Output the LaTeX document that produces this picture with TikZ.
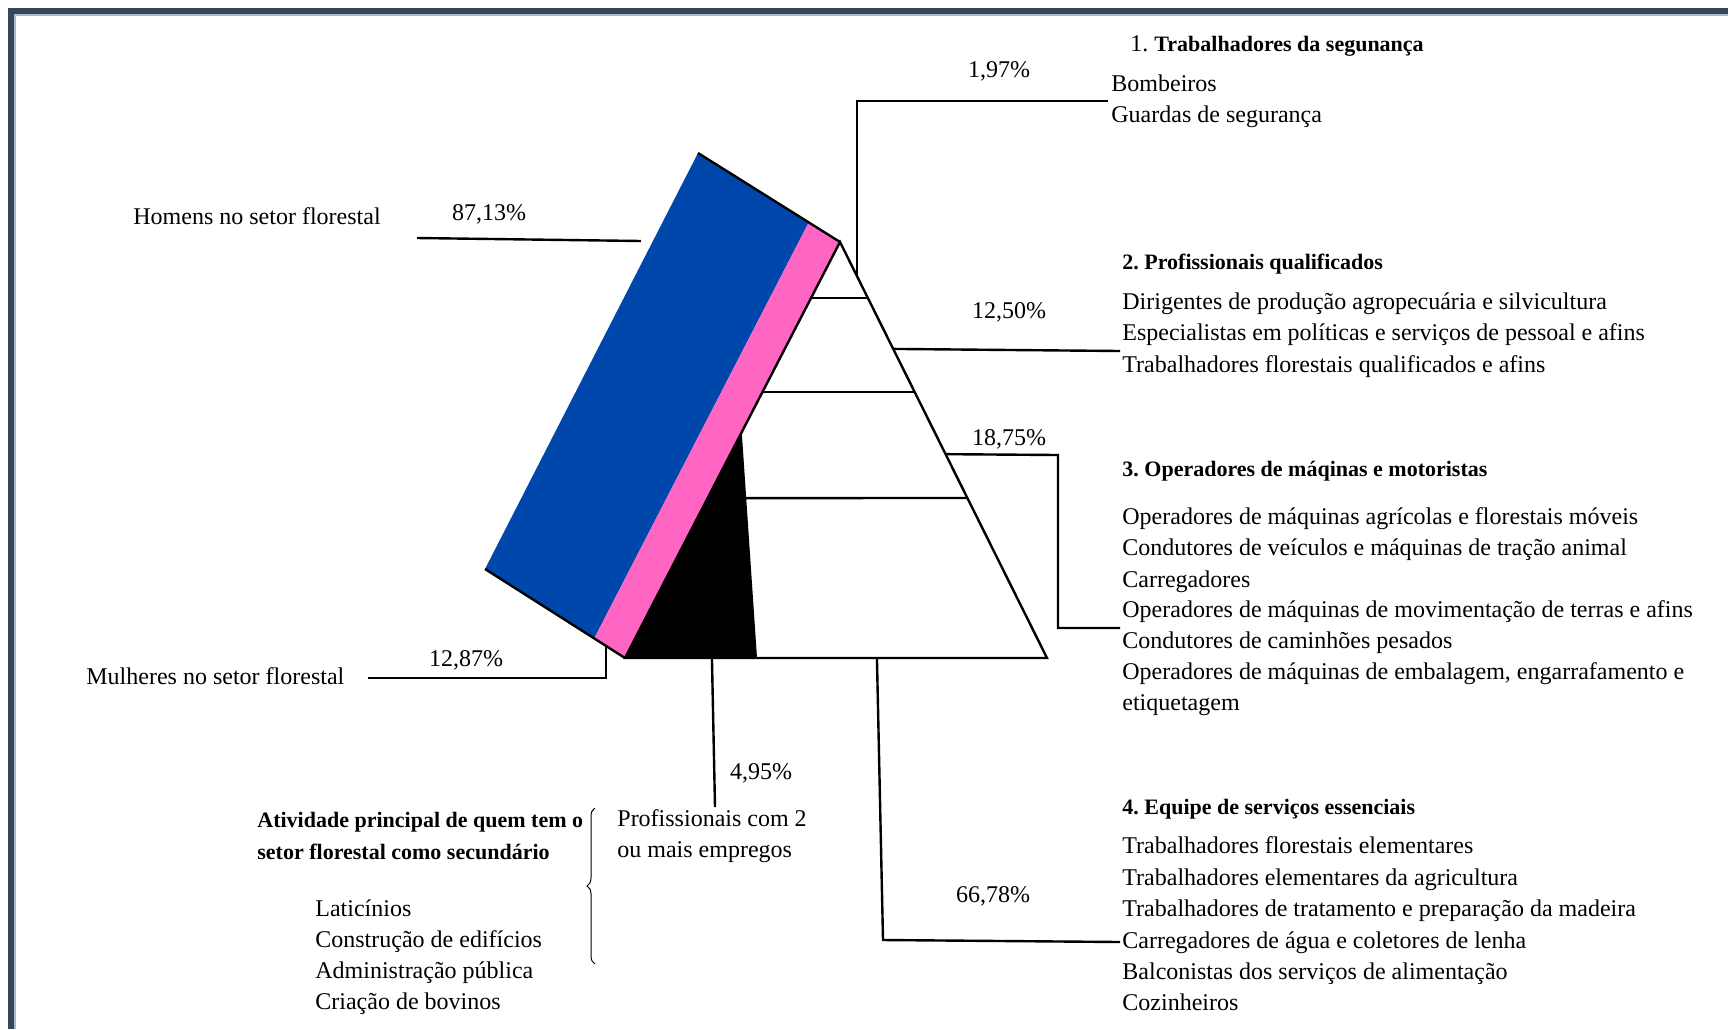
\documentclass[tikz,border=0pt]{standalone}
\usepackage{fontspec}
\setmainfont{Liberation Serif}
\usetikzlibrary{positioning, calc, decorations.pathreplacing}
\definecolor{menblue}{HTML}{0047AB}
\definecolor{womenpink}{HTML}{FF66C4}
\definecolor{framedark}{HTML}{34455C}
\definecolor{framelight}{HTML}{AEB8C4}
\frenchspacing
\tikzstyle{item} = [anchor=west, inner sep=0pt, text height=10.5pt, text depth=2.5pt, font=\fontsize{12}{15}\selectfont]
\tikzstyle{head} = [item, font=\fontsize{11}{14}\selectfont\bfseries]
\tikzstyle{pct} = [inner sep=0pt, text height=10.5pt, text depth=2.5pt, font=\fontsize{12}{15}\selectfont]
\tikzstyle{link} = [line width=1.2pt]

\begin{document}
\begin{tikzpicture}[x=0.5pt, y=-0.5pt]
\useasboundingbox (0,0) rectangle (1728,1029);
% frame
\draw[framedark, line width=3pt] (11,1029) -- (11,11) -- (1728,11);
\draw[framelight, line width=0.8pt] (15,1029) -- (15,15) -- (1728,15);

% pyramid and the tilted bar
\coordinate (rtop) at (698,153);
\coordinate (apex) at (840,242);
\coordinate (bl) at (625,658);
\coordinate (rbot) at (485,569);
\coordinate (br) at (1047,658);
\coordinate (btop) at ($(apex)!0.457!(bl)$);
\coordinate (bbr) at (757,658);

\fill[menblue] (rtop) -- ($(rtop)!0.78!(apex)$) -- ($(rbot)!0.78!(bl)$) -- (rbot) -- cycle;
\fill[womenpink] ($(rtop)!0.78!(apex)$) -- (apex) -- (bl) -- ($(rbot)!0.78!(bl)$) -- cycle;
\fill[black] (btop) -- (bbr) -- (bl) -- cycle;
\draw[link] (rtop) -- (apex);
\draw[link] (rbot) -- (bl);
\draw[link, line join=miter] (apex) -- (br) -- (bl) -- cycle;
\draw[link] ($(apex)!0.1346!(bl)$) -- ($(apex)!0.1346!(br)$);
\draw[link] ($(apex)!0.3606!(bl)$) -- ($(apex)!0.3606!(br)$);
\draw[link] ($(btop)!0.292!(bbr)$) -- ($(apex)!0.6154!(br)$);

% 1. seguranca
\node (g1head) [item] at (1130,43) {1. \fontsize{11}{14}\selectfont\textbf{Trabalhadores da segunança}};
\node (g1a) [item] at (1111,83) {Bombeiros};
\node (g1b) [item] at (1111,114) {Guardas de segurança};
\node (p1) [pct] at (999,69) {1,97\%};
\coordinate (r1) at ($(apex)!0.082!(br)$);
\coordinate (c1) at (1108,101);
\draw[link] (r1) |- (c1);

% men
\node (men) [item] at (133,216) {Homens no setor florestal};
\node (pmen) [pct] at (489,212) {87,13\%};
\coordinate (h1) at (417,238);
\coordinate (h2) at (641,241);
\draw[link] (h1) -- (h2);

% 2. qualificados
\node (g2head) [head] at (1122,261) {2. Profissionais qualificados};
\node (g2a) [item] at (1122,301) {Dirigentes de produção agropecuária e silvicultura};
\node (g2b) [item] at (1122,332) {Especialistas em políticas e serviços de pessoal e afins};
\node (g2c) [item] at (1122,364) {Trabalhadores florestais qualificados e afins};
\node (p2) [pct] at (1009,310) {12,50\%};
\coordinate (r2) at ($(apex)!0.257!(br)$);
\coordinate (c2) at (1120,351);
\draw[link] (r2) -- (c2);

% 3. operadores
\node (g3head) [head] at (1122,468) {3. Operadores de máqinas e motoristas};
\node (g3a) [item] at (1122,516) {Operadores de máquinas agrícolas e florestais móveis};
\node (g3b) [item] at (1122,547) {Condutores de veículos e máquinas de tração animal};
\node (g3c) [item] at (1122,579) {Carregadores};
\node (g3d) [item] at (1122,609) {Operadores de máquinas de movimentação de terras e afins};
\node (g3e) [item] at (1122,640) {Condutores de caminhões pesados};
\node (g3f) [item] at (1122,671) {Operadores de máquinas de embalagem, engarrafamento e};
\node (g3g) [item] at (1122,702) {etiquetagem};
\node (p3) [pct] at (1009,437) {18,75\%};
\coordinate (r3) at ($(apex)!0.51!(br)$);
\coordinate (k3) at (1058,455);
\coordinate (c3) at (1120,628);
\draw[link] (r3) -- (k3) |- (c3);

% women
\node (women) [item] at (86,676) {Mulheres no setor florestal};
\node (pwomen) [pct] at (466,658) {12,87\%};
\coordinate (m1) at ($(rbot)!0.864!(bl)$);
\coordinate (c4) at (368,678);
\draw[link] (m1) |- (c4);

% 2 or more jobs
\coordinate (d1) at ($(bl)!0.206!(br)$);
\coordinate (d2) at (715,807);
\draw[link] (d1) -- (d2);
\node (p5) [pct] at (761,771) {4,95\%};
\node (jobs1) [item] at (617,818) {Profissionais com 2};
\node (jobs2) [item] at (617,849) {ou mais empregos};
\coordinate (brlow) at (595,964);
\coordinate (brhigh) at (595,808);
\draw[line width=0.5pt, decorate, decoration={brace, amplitude=4pt}] (brlow) -- (brhigh);
\node (sec1) [head] at (257,819) {Atividade principal de quem tem o};
\node (sec2) [head] at (257,851) {setor florestal como secundário};
\node (sec3) [item] at (315,908) {Laticínios};
\node (sec4) [item] at (315,939) {Construção de edifícios};
\node (sec5) [item] at (315,970) {Administração pública};
\node (sec6) [item] at (315,1001) {Criação de bovinos};

% 4. servicos essenciais
\node (g4head) [head] at (1122,806) {4. Equipe de serviços essenciais};
\node (g4a) [item] at (1122,845) {Trabalhadores florestais elementares};
\node (g4b) [item] at (1122,877) {Trabalhadores elementares da agricultura};
\node (g4c) [item] at (1122,908) {Trabalhadores de tratamento e preparação da madeira};
\node (g4d) [item] at (1122,940) {Carregadores de água e coletores de lenha};
\node (g4e) [item] at (1122,971) {Balconistas dos serviços de alimentação};
\node (g4f) [item] at (1122,1002) {Cozinheiros};
\node (p4) [pct] at (993,894) {66,78\%};
\coordinate (e1) at ($(bl)!0.597!(br)$);
\coordinate (e2) at (883,940);
\coordinate (e3) at (1120,942);
\draw[link] (e1) -- (e2) -- (e3);
\end{tikzpicture}
\end{document}
